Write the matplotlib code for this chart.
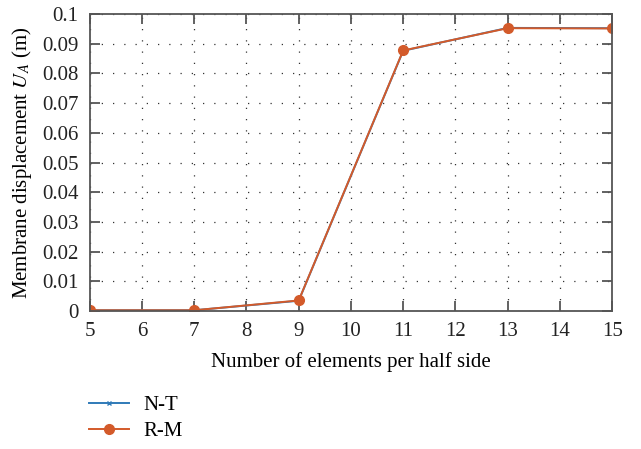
import numpy as np
import matplotlib
matplotlib.use("Agg")
import matplotlib.pyplot as plt

plt.rcParams.update({
    "font.family": "serif", "font.serif": ["Liberation Serif", "DejaVu Serif"],
    "font.size": 15, "mathtext.fontset": "stix",
    "axes.edgecolor": "#555555", "xtick.color": "#555555", "ytick.color": "#555555",
    "xtick.labelcolor": "#222222", "ytick.labelcolor": "#222222",
})

BLUE = "#2f7ab8"; ORANGE = "#d35a2a"

elements = [5, 7, 9, 11, 13, 15]
u_nt = [0.0003, 0.0003, 0.0035, 0.0876, 0.0953, 0.0952]
u_rm = [0.0003, 0.0003, 0.0036, 0.0877, 0.0952, 0.0951]

fig = plt.figure(figsize=(6.41, 4.49), dpi=100)
ax = fig.add_axes([0.140, 0.307, 0.815, 0.662])

ax.plot(elements, u_nt, color=BLUE, linewidth=1.4, marker="x", markersize=3, label="N-T")
ax.plot(elements, u_rm, color=ORANGE, linewidth=1.4, marker="o", markersize=7, label="R-M")

ax.set_xlim(5, 15); ax.set_ylim(0, 0.1)
ax.set_xticks(range(5, 16))
ax.set_yticks(np.arange(0, 0.1001, 0.01))
ax.set_yticklabels(["0"] + [f"{v:g}" for v in np.arange(0.01, 0.1001, 0.01).round(2)])
ax.grid(True, linestyle=(0, (1, 8)), color="#333333", linewidth=0.9)
ax.tick_params(direction="in", top=True, right=True, length=7, width=1.3,
               labelsize=15, pad=8)
for s in ax.spines.values():
    s.set_linewidth(1.3)
ax.set_xlabel("Number of elements per half side", fontsize=15, labelpad=8)
ax.set_ylabel("Membrane displacement $U_A$ (m)", fontsize=15, labelpad=6)

fig.legend(loc="upper left", bbox_to_anchor=(0.11, 0.16), frameon=False,
           fontsize=15, handlelength=1.9, handletextpad=0.7, labelspacing=0.3)

plt.savefig("out.png", dpi=100)
